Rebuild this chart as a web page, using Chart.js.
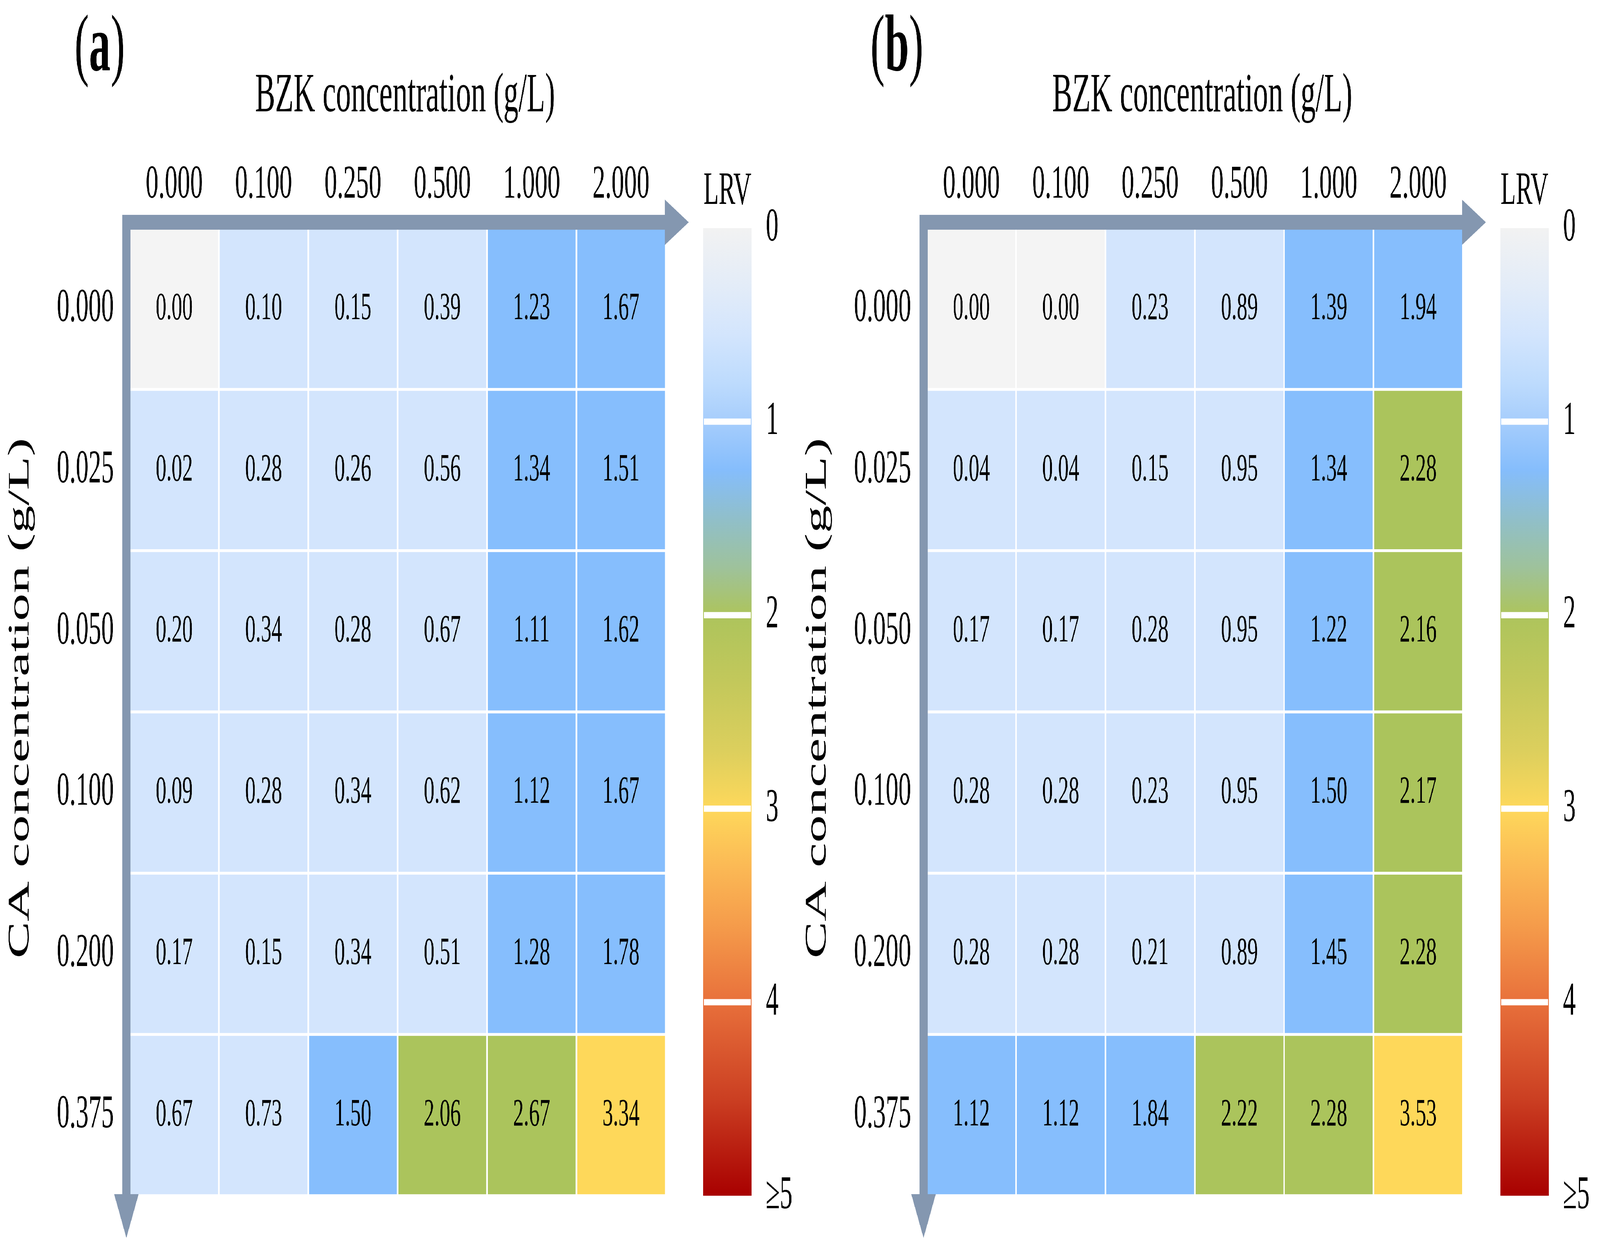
<!DOCTYPE html>
<html>
<head>
<meta charset="utf-8">
<script src="https://cdn.jsdelivr.net/npm/chart.js@4.4.0/dist/chart.umd.min.js"></script>
<style>
  html, body { margin: 0; padding: 0; background: #fff; overflow: hidden; }
  #wrap { position: absolute; left: 0; top: 0; width: 7571px; height: 3223px; transform-origin: 0 0; }
  canvas { position: absolute; top: 0; }
</style>
</head>
<body>
<div id="wrap">
  <canvas id="panelA" width="3785" height="3223" style="left:0"></canvas>
  <canvas id="panelB" width="3785" height="3223" style="left:3772px"></canvas>
</div>
<script>
// axes
const BZK_LABELS = ['0.000', '0.100', '0.250', '0.500', '1.000', '2.000'];
const CA_LABELS = ['0.000', '0.025', '0.050', '0.100', '0.200', '0.375'];

// LRV values, one row per CA concentration
const LRV_A = [
  [0.00, 0.10, 0.15, 0.39, 1.23, 1.67],
  [0.02, 0.28, 0.26, 0.56, 1.34, 1.51],
  [0.20, 0.34, 0.28, 0.67, 1.11, 1.62],
  [0.09, 0.28, 0.34, 0.62, 1.12, 1.67],
  [0.17, 0.15, 0.34, 0.51, 1.28, 1.78],
  [0.67, 0.73, 1.50, 2.06, 2.67, 3.34]
];
const LRV_B = [
  [0.00, 0.00, 0.23, 0.89, 1.39, 1.94],
  [0.04, 0.04, 0.15, 0.95, 1.34, 2.28],
  [0.17, 0.17, 0.28, 0.95, 1.22, 2.16],
  [0.28, 0.28, 0.23, 0.95, 1.50, 2.17],
  [0.28, 0.28, 0.21, 0.89, 1.45, 2.28],
  [1.12, 1.12, 1.84, 2.22, 2.28, 3.53]
];

// colour bar
const LRV_TICKS = ['0', '1', '2', '3', '4', '≥5'];
const ZERO_COLOR = '#f4f4f4';
const BAND_COLORS = ['#d3e5fd', '#86befd', '#abc45c', '#fed85a', '#e8703b'];
const CB_STOPS = [
  [0, '#f2f2f2'], [0.3, '#e3ecf8'], [0.55, '#d3e5fd'], [0.8, '#bddbfd'], [1, '#a6cdfc'],
  [1.25, '#85bdfc'], [1.5, '#90bfca'], [1.75, '#9ec29c'], [2, '#adc45c'],
  [2.35, '#c3c85b'], [2.7, '#dccf5d'], [3, '#fed85b'], [3.3, '#fbb955'],
  [3.6, '#f59c4b'], [4, '#e8703b'], [4.5, '#cb3f22'], [5, '#a80000']
];

const ARROW = '#8497b0';
const FONT = "'Liberation Serif', 'Times New Roman', serif";
Chart.defaults.font.family = FONT;
Chart.defaults.color = '#000';

// the window may come up smaller than the 7571 x 3223 figure: stretch it to fill
const sx = window.innerWidth / 7571, sy = window.innerHeight / 3223;
document.getElementById('wrap').style.transform = 'scale(' + sx + ',' + sy + ')';

function cellColor(v) {
  if (v === 0) return ZERO_COLOR;
  return BAND_COLORS[Math.min(Math.floor(v), 4)];
}

// fixed axis sizes; drop the label overhang padding so the plot area keeps its height
function fixSize(prop, size) {
  return s => {
    s[prop] = typeof size === 'function' ? size() : size;
    s.paddingTop = 0; s.paddingBottom = 0; s.paddingLeft = 0; s.paddingRight = 0;
  };
}

const panelPlugin = {
  id: 'panel',
  afterDatasetsDraw(chart) {
    const ctx = chart.ctx;
    const { left, right, top, bottom } = chart.chartArea;

    // cell values
    ctx.save();
    ctx.fillStyle = '#000';
    ctx.font = '100px ' + FONT;
    ctx.textAlign = 'center';
    ctx.textBaseline = 'middle';
    chart.data.datasets.forEach((ds, i) => {
      chart.getDatasetMeta(i).data.forEach((bar, j) => {
        const p = bar.getCenterPoint();
        ctx.fillText(ds.lrv[j].toFixed(2), p.x, p.y);
      });
    });
    ctx.restore();

    // axis arrows
    ctx.save();
    ctx.fillStyle = ARROW;
    ctx.fillRect(left - 34, top - 34, right - 4 - (left - 34), 38);
    ctx.beginPath();
    ctx.moveTo(right - 4, top - 15 - 58);
    ctx.lineTo(right + 109, top - 15);
    ctx.lineTo(right - 4, top - 15 + 58);
    ctx.closePath();
    ctx.fill();
    ctx.fillRect(left - 34, top - 34, 38, bottom - 4 - (top - 34));
    ctx.beginPath();
    ctx.moveTo(left - 15 - 58, bottom - 4);
    ctx.lineTo(left - 15, bottom + 108);
    ctx.lineTo(left - 15 + 58, bottom - 4);
    ctx.closePath();
    ctx.fill();
    ctx.restore();
  },
  afterDraw(chart, args, opts) {
    const ctx = chart.ctx;
    const cb = chart.scales.cb;
    const x0 = chart.chartArea.right + 178;
    const w = 228;
    const y0 = cb.getPixelForValue(0);
    const y5 = cb.getPixelForValue(5);

    ctx.save();
    const g = ctx.createLinearGradient(0, y0, 0, y5);
    CB_STOPS.forEach(([v, c]) => g.addColorStop(v / 5, c));
    ctx.fillStyle = g;
    ctx.fillRect(x0, y0, w, y5 - y0);
    ctx.fillStyle = '#fff';
    [1, 2, 3, 4].forEach(v => {
      const y = cb.getPixelForValue(v);
      ctx.fillRect(x0 + 3, y - 8, w - 6, 16);
    });

    ctx.fillStyle = '#000';
    ctx.textAlign = 'center';
    ctx.textBaseline = 'middle';
    ctx.font = '118px ' + FONT;
    ctx.fillText('LRV', x0 + w / 2, y0 - 93);

    // panel tag "(a)" with bold letter
    ctx.textAlign = 'left';
    ctx.textBaseline = 'alphabetic';
    const reg = '205px ' + FONT, bold = 'bold 205px ' + FONT;
    ctx.font = reg; const wp = ctx.measureText('(').width, wq = ctx.measureText(')').width;
    ctx.font = bold; const wl = ctx.measureText(opts.tag).width;
    let tx = 472 - (wp + wl + wq) / 2;
    const ty = 180;
    ctx.font = reg; ctx.fillText('(', tx, ty); tx += wp;
    ctx.font = bold; ctx.fillText(opts.tag, tx, ty); tx += wl;
    ctx.font = reg; ctx.fillText(')', tx, ty);
    ctx.restore();
  }
};

function makePanel(id, tag, values) {
  const canvas = document.getElementById(id);
  return new Chart(canvas, {
    type: 'bar',
    data: {
      labels: BZK_LABELS,
      datasets: CA_LABELS.map((ca, r) => ({
        label: ca,
        data: BZK_LABELS.map(() => [r, r + 1]),
        lrv: values[r],
        backgroundColor: values[r].map(cellColor),
        borderColor: '#ffffff',
        borderWidth: 4,
        borderSkipped: false,
        grouped: false,
        categoryPercentage: 1,
        barPercentage: 1
      }))
    },
    plugins: [panelPlugin],
    options: {
      responsive: false,
      animation: false,
      devicePixelRatio: 1,
      events: [],
      layout: { padding: { left: 0, right: 0, top: 0, bottom: 162 } },
      plugins: {
        legend: { display: false },
        tooltip: { enabled: false },
        panel: { tag: tag }
      },
      scales: {
        x: {
          type: 'category',
          position: 'top',
          offset: true,
          grid: { display: false },
          border: { display: false },
          ticks: { font: { size: 120, lineHeight: 1 }, padding: 42, maxRotation: 0, autoSkip: false },
          title: {
            display: true,
            text: '  BZK concentration (g/L)',
            font: { size: 142, lineHeight: 1 },
            padding: { top: 177, bottom: 0 }
          },
          afterFit: fixSize('height', 584)
        },
        y: {
          type: 'linear',
          position: 'left',
          min: 0,
          max: 6,
          reverse: true,
          grid: { display: false },
          border: { display: false },
          afterBuildTicks: s => { s.ticks = CA_LABELS.map((_, i) => ({ value: i + 0.5 })); },
          ticks: { font: { size: 120, lineHeight: 1 }, padding: 66, callback: (v, i) => CA_LABELS[i] },
          title: {
            display: true,
            text: '  CA concentration (g/L)',
            font: { size: 142, lineHeight: 1 },
            padding: { top: 27, bottom: 0 }
          },
          afterFit: fixSize('width', 613)
        },
        cb: {
          type: 'linear',
          position: 'right',
          min: 0,
          max: 5,
          reverse: true,
          grid: { display: false },
          border: { display: false },
          ticks: { stepSize: 1, font: { size: 120, lineHeight: 1 }, padding: 466, callback: v => LRV_TICKS[v] },
          afterFit: fixSize('width', () => canvas.width - 3150)
        }
      }
    }
  });
}

makePanel('panelA', 'a', LRV_A);
makePanel('panelB', 'b', LRV_B);
</script>
</body>
</html>
